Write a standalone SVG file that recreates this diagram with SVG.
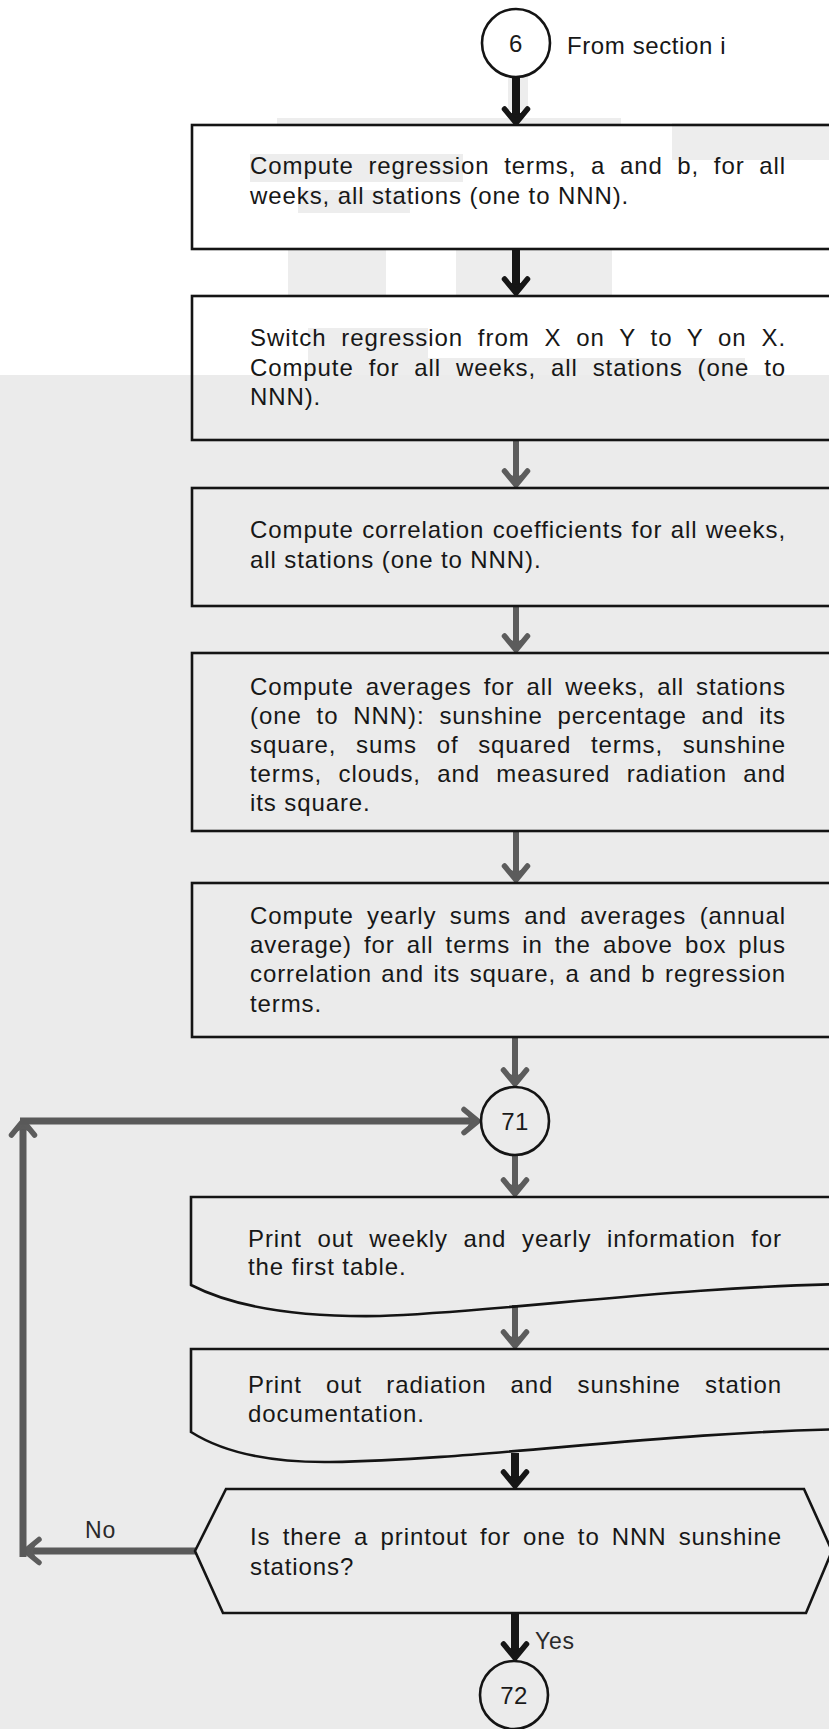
<svg xmlns="http://www.w3.org/2000/svg" width="829" height="1729" viewBox="0 0 829 1729">
  <style>
    .paper { fill: #ebebeb; }
    .white { fill: #ffffff; }
    .patch { fill: #ededed; }
    .box { fill: none; stroke: #141414; stroke-width: 2.6; stroke-linejoin: miter; }
    .t { font-family: "Liberation Sans", Arial, sans-serif; font-size: 24px; fill: #171717; letter-spacing: 0.9px; }
    .num { font-family: "Liberation Sans", Arial, sans-serif; font-size: 24px; fill: #1a1a1a; text-anchor: middle; letter-spacing: 0.5px; }
    .lbl { font-family: "Liberation Sans", Arial, sans-serif; font-size: 23px; fill: #2a2a2a; letter-spacing: 0.8px; }
    .dark { fill: none; stroke: #161616; stroke-width: 8; marker-end: url(#headDark); }
    .gray { fill: none; stroke: #5c5c5c; stroke-width: 6; marker-end: url(#headGray); }
    .loop { fill: none; stroke: #595959; stroke-width: 7; marker-end: url(#headGray); }
  </style>
  <defs>
    <!-- arrowheads: a bold V with a filled throat; tip sits 10 units beyond the line end -->
    <marker id="headDark" markerUnits="userSpaceOnUse" orient="auto" viewBox="-22 -16 24 32" markerWidth="24" markerHeight="32" refX="-10" refY="0">
      <path d="M0,0 L-14,-7.5 L-11,0 L-14,7.5 Z" fill="#161616"/>
      <path d="M-17,-11.5 L-3,0 L-17,11.5" fill="none" stroke="#161616" stroke-width="5.5" stroke-linecap="round" stroke-linejoin="round"/>
    </marker>
    <marker id="headGray" markerUnits="userSpaceOnUse" orient="auto" viewBox="-22 -16 24 32" markerWidth="24" markerHeight="32" refX="-10" refY="0">
      <path d="M0,0 L-14,-7.5 L-11,0 L-14,7.5 Z" fill="#5c5c5c"/>
      <path d="M-17,-11.5 L-3,0 L-17,11.5" fill="none" stroke="#5c5c5c" stroke-width="5.5" stroke-linecap="round" stroke-linejoin="round"/>
    </marker>
  </defs>

  <!-- page: white upper sheet, grey lower sheet, with light toner patches -->
  <g id="page">
    <rect class="paper" x="0" y="0" width="829" height="1729"/>
    <rect class="white" x="0" y="0" width="829" height="375"/>
    <rect class="patch" x="277" y="118" width="344" height="8"/>
    <rect class="patch" x="672" y="123" width="157" height="37"/>
    <rect class="patch" x="250" y="154" width="213" height="28"/>
    <rect class="patch" x="298" y="190" width="112" height="23"/>
    <rect class="patch" x="288" y="248" width="98" height="47"/>
    <rect class="patch" x="456" y="248" width="156" height="47"/>
    <rect class="patch" x="508" y="72" width="20" height="38"/>
    <rect class="patch" x="308" y="328" width="120" height="47"/>
    <rect class="patch" x="428" y="358" width="317" height="17"/>
  </g>

  <!-- connectors -->
  <g id="connectors">
    <path class="dark" d="M516,77 V116"/>
    <path class="dark" d="M516,249 V286"/>
    <path class="gray" d="M516,440 V478"/>
    <path class="gray" d="M516,606 V643"/>
    <path class="gray" d="M516,831 V873"/>
    <path class="gray" d="M515,1037 V1077"/>
    <path class="gray" d="M515,1155 V1187"/>
    <path class="gray" d="M515,1305 V1339"/>
    <path class="dark" d="M515,1453 V1479"/>
    <path class="dark" d="M515,1613 V1651"/>
    <!-- "No" branch back to connector 71 -->
    <path class="loop" d="M196,1551 H32"/>
    <path class="loop" d="M23,1557 V1128"/>
    <path class="loop" d="M20,1121 H471"/>
    <text class="lbl" x="85" y="1538">No</text>
    <text class="lbl" x="535" y="1649" fill="#555555">Yes</text>
  </g>

  <g id="n6">
    <circle cx="516" cy="43" r="34" fill="#ffffff" stroke="#141414" stroke-width="2.6"/>
    <text class="num" x="516" y="52">6</text>
    <text class="t" x="567" y="54" style="letter-spacing:0.6px">From section i</text>
  </g>

  <g id="regression">
    <rect class="box" x="192" y="125" width="660" height="124"/>
    <text class="t" x="250" y="174" word-spacing="7.1" textLength="536" lengthAdjust="spacing">Compute regression terms, a and b, for all</text>
    <text class="t" x="250" y="204">weeks, all stations (one to NNN).</text>
  </g>

  <g id="switch">
    <rect class="box" x="192" y="296" width="660" height="144"/>
    <text class="t" x="250" y="346" word-spacing="7.1" textLength="536" lengthAdjust="spacing">Switch regression from X on Y to Y on X.</text>
    <text class="t" x="250" y="376" word-spacing="7.4" textLength="536" lengthAdjust="spacing">Compute for all weeks, all stations (one to</text>
    <text class="t" x="250" y="405">NNN).</text>
  </g>

  <g id="correlation">
    <rect class="box" x="192" y="488" width="660" height="118"/>
    <text class="t" x="250" y="538" word-spacing="0.8" textLength="536" lengthAdjust="spacing">Compute correlation coefficients for all weeks,</text>
    <text class="t" x="250" y="568">all stations (one to NNN).</text>
  </g>

  <g id="averages">
    <rect class="box" x="192" y="653" width="660" height="178"/>
    <text class="t" x="250" y="695" word-spacing="4.5" textLength="536" lengthAdjust="spacing">Compute averages for all weeks, all stations</text>
    <text class="t" x="250" y="724" word-spacing="7.4" textLength="536" lengthAdjust="spacing">(one to NNN): sunshine percentage and its</text>
    <text class="t" x="250" y="753" word-spacing="12.1" textLength="536" lengthAdjust="spacing">square, sums of squared terms, sunshine</text>
    <text class="t" x="250" y="782" word-spacing="8.8" textLength="536" lengthAdjust="spacing">terms, clouds, and measured radiation and</text>
    <text class="t" x="250" y="811">its square.</text>
  </g>

  <g id="yearly">
    <rect class="box" x="192" y="883" width="660" height="154"/>
    <text class="t" x="250" y="924" word-spacing="5.8" textLength="536" lengthAdjust="spacing">Compute yearly sums and averages (annual</text>
    <text class="t" x="250" y="953" word-spacing="4.5" textLength="536" lengthAdjust="spacing">average) for all terms in the above box plus</text>
    <text class="t" x="250" y="982" word-spacing="1.9" textLength="536" lengthAdjust="spacing">correlation and its square, a and b regression</text>
    <text class="t" x="250" y="1012">terms.</text>
  </g>

  <g id="n71">
    <circle cx="515" cy="1121" r="34" fill="#ebebeb" stroke="#141414" stroke-width="2.6"/>
    <text class="num" x="515" y="1130">71</text>
  </g>

  <g id="print-table">
    <path class="box" d="M852,1197 H191 V1285 Q255,1318 380,1316 C500,1312 680,1286 852,1284"/>
    <text class="t" x="248" y="1247" word-spacing="8.1" textLength="534" lengthAdjust="spacing">Print out weekly and yearly information for</text>
    <text class="t" x="248" y="1275">the first table.</text>
  </g>

  <g id="print-docs">
    <path class="box" d="M852,1349 H191 V1432 Q240,1463 330,1462 C480,1460 660,1432 852,1429"/>
    <text class="t" x="248" y="1393" word-spacing="16.6" textLength="534" lengthAdjust="spacing">Print out radiation and sunshine station</text>
    <text class="t" x="248" y="1422">documentation.</text>
  </g>

  <g id="decision">
    <path class="box" d="M195,1551 L226,1489 H804 L832,1551 L806,1613 H223 Z"/>
    <text class="t" x="250" y="1545" word-spacing="4.6" textLength="532" lengthAdjust="spacing">Is there a printout for one to NNN sunshine</text>
    <text class="t" x="250" y="1575">stations?</text>
  </g>

  <g id="n72">
    <circle cx="514" cy="1695" r="34" fill="#ebebeb" stroke="#141414" stroke-width="2.6"/>
    <text class="num" x="514" y="1704">72</text>
  </g>
</svg>
